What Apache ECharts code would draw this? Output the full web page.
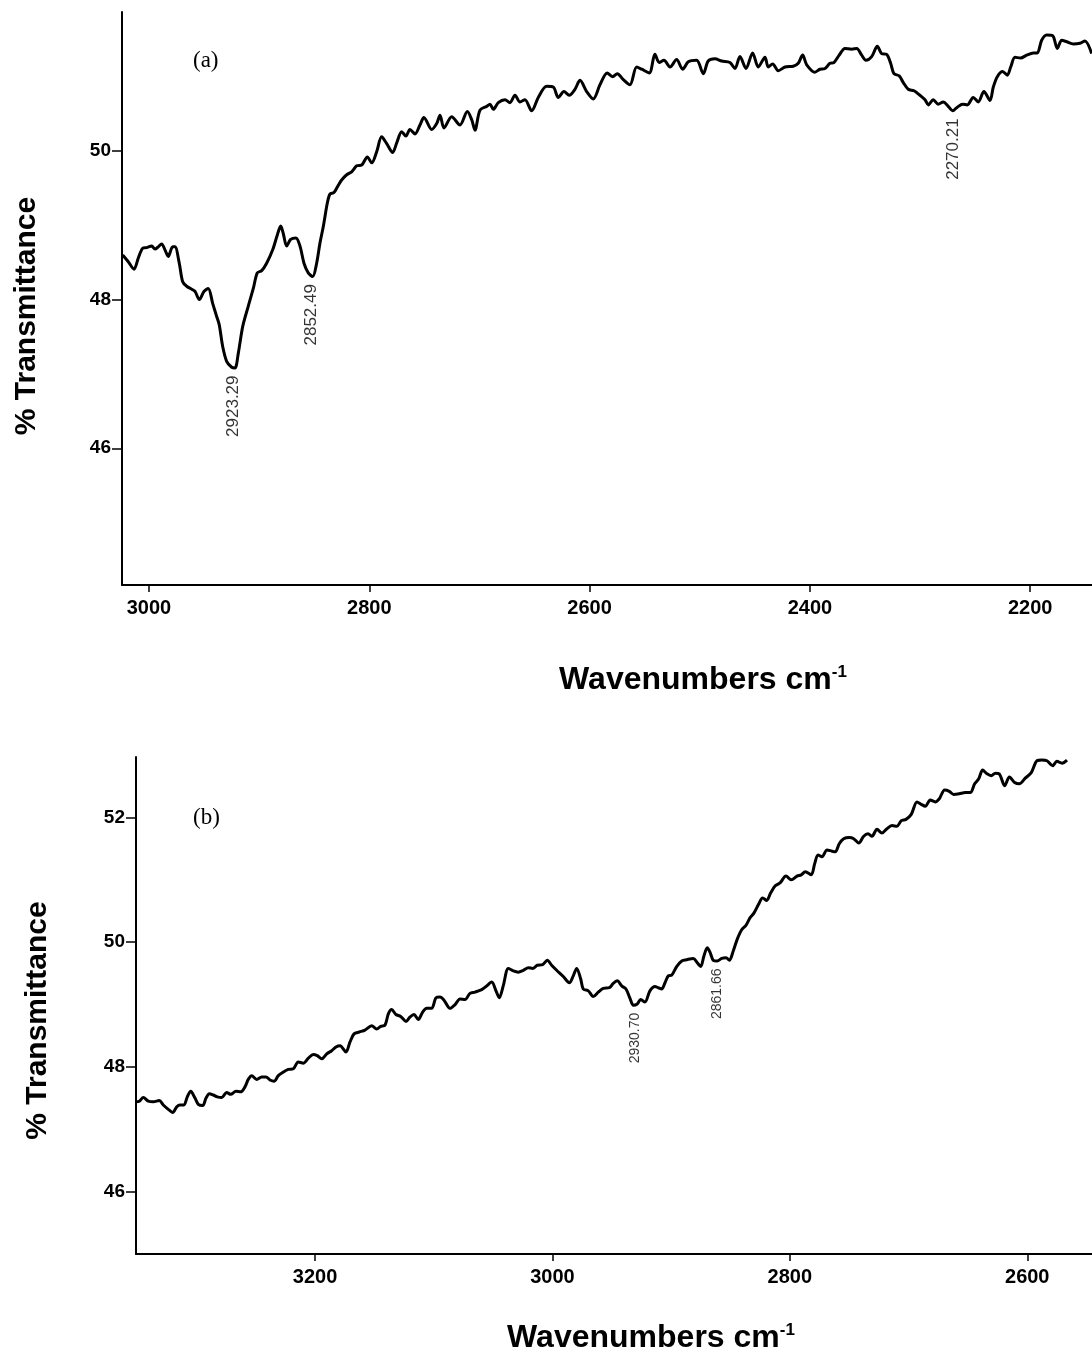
<!DOCTYPE html>
<html>
<head>
<meta charset="utf-8">
<title>IR spectra (a) and (b)</title>
<script src="https://cdn.jsdelivr.net/npm/echarts@6/dist/echarts.min.js"></script>
<style>
html,body{margin:0;padding:0;background:#fff}
#chart{width:1092px;height:1354px}
</style>
</head>
<body>
<div id="chart"></div>
<script>
// spectrum (a), wavenumber (cm-1) and % transmittance
const waveA=[3023.9,3018.8,3013.6,3009.7,3005.7,3002.1,2997.5,2994.6,2991.6,2988.5,
2985.5,2982.5,2978.5,2976.4,2972.5,2969.4,2965.8,2961.2,2958.2,2954.3,
2950.1,2946.2,2942.2,2938.5,2936.2,2933.1,2929.5,2924.9,2921.9,2918.9,
2914.9,2909.9,2905.3,2901.7,2897.7,2893.2,2887.7,2883.5,2880.4,2878.1,
2875,2871.4,2866.6,2862.9,2859.3,2855.4,2851.4,2847.8,2844.8,2841.8,
2838.1,2835.7,2832.1,2828.1,2825.1,2820.5,2816,2811.4,2806.9,2801.8,
2797.8,2793.3,2788.8,2784.2,2778.8,2775.1,2770.6,2766.7,2763.1,2758.5,
2754,2750.4,2743.4,2738.8,2735.8,2732.2,
2725.2,2717.7,2711,2707,2704.1,2699.5,2693.4,2690.4,2687.4,2682.9,
2676.8,2672.3,2667.7,2663.2,2658.7,2652.6,2646.6,2639,2633,2628.4,
2623.3,2618.5,2613.3,2608.7,2602.7,2596.7,2590.6,2584,2579.1,2574.9,
2569.4,2563.4,2557.3,2552.7,2545.8,2540.7,2536.8,2532.5,2527,2521,
2515.5,2510.4,2502.8,2496.8,2492.3,2486.2,2480.1,2472.6,2468,2463.5,
2458,2452,2446.9,2440.8,
2437.8,2433.8,2428.7,2422.6,2415.1,2410.6,2406.6,2402.9,2395.4,2390.9,
2386.3,2381.8,2378.2,2373.4,2368.2,2362.1,2357.5,2353,2349.1,2343.9,
2338.8,2334.9,2330.3,2326.7,2323.7,2318.9,2315.2,2310.7,2305.5,2300.1,
2295.5,2292.5,2288,2283.5,2278.9,2274.4,2270.4,2266.2,2261.3,2257.1,
2251.7,2247.2,2242,2236.5,2233.5,2229.9,2225,2220.8,2217.7,2213.8,
2208.7,2203.2,2197.2,2193.6,2189.6,2185.1,2179.6,2175.4,2171.4,2166.9,
2160.9,2154.8,2150.3,2144.2];
const transA=[48.60,48.51,48.41,48.56,48.69,48.70,48.72,48.68,48.71,48.75,
48.67,48.58,48.71,48.71,48.49,48.24,48.18,48.14,48.11,48.00,
48.11,48.15,47.95,47.77,47.66,47.37,47.17,47.09,47.08,47.28,
47.64,47.91,48.15,48.36,48.39,48.49,48.67,48.87,48.99,48.89,
48.72,48.81,48.83,48.72,48.49,48.36,48.31,48.49,48.76,48.98,
49.30,49.42,49.44,49.54,49.61,49.68,49.72,49.80,49.81,49.92,
49.84,49.99,50.19,50.10,49.98,50.11,50.26,50.20,50.29,50.23,
50.35,50.45,50.29,50.37,50.48,50.31,
50.46,50.35,50.53,50.42,50.28,50.55,50.60,50.63,50.56,50.65,
50.69,50.65,50.75,50.66,50.69,50.54,50.72,50.87,50.86,50.72,
50.80,50.75,50.83,50.95,50.80,50.70,50.89,51.05,51.00,51.04,
50.96,50.89,51.13,51.10,51.05,51.30,51.19,51.22,51.13,51.23,
51.10,51.20,51.22,51.04,51.21,51.24,51.21,51.19,51.11,51.27,
51.11,51.32,51.13,51.26,
51.13,51.17,51.08,51.13,51.14,51.18,51.29,51.16,51.06,51.10,
51.11,51.18,51.19,51.29,51.38,51.37,51.38,51.29,51.22,51.27,
51.41,51.31,51.30,51.18,51.04,51.01,50.92,50.83,50.81,50.75,
50.69,50.62,50.69,50.63,50.66,50.60,50.54,50.59,50.63,50.62,
50.72,50.66,50.80,50.68,50.86,51.00,51.07,51.02,51.13,51.26,
51.25,51.29,51.32,51.32,51.49,51.56,51.55,51.38,51.49,51.47,
51.44,51.45,51.48,51.31];
const peaksA=[2923.29,2852.49,2270.21];
const ticksXA=[3000,2800,2600,2400,2200];
const ticksYA=[46,48,50];

// spectrum (b)
const waveB=[3350.9,3348.1,3344.7,3340.5,3336.3,3331.3,3327.9,3323.7,3320,3316.6,
3313.8,3310.5,3307.7,3304.8,3301.2,3298.4,3294.7,3291.9,3289.1,3285.8,
3282.4,3278.7,3274.5,3271.1,3266.7,3262.7,3259.1,3256.3,3253.4,3249.2,
3245,3241.4,3238,3234.6,3231,3227.3,3222.6,3218.4,3214.2,3210,
3205.7,3201.5,3198.2,3194.4,3190.2,3186,3182.4,3179,3174,3170.6,
3167.2,3162.8,3158,3152.3,3148.1,3144.7,3141.1,3138.3,3135.5,3131.9,
3127.9,3123.4,3120.1,3116.7,3113.1,3109.4,3106,3101.8,3098.1,3094.8,
3091.4,3086.4,3082.1,3077.9,3073.7,3069.5,3065.3,3059.6,3056,3051.2,
3047.6,3044.8,3041.5,3037.2,3033,3028.8,3024.6,3020.4,3016.7,3012.8,
3008.3,3004.4,3000.7,2996.5,2990.9,2985.8,2982.5,2979.6,2976.2,2974.1,
2969.8,2965.6,2961.4,2957.2,2952.1,2948.8,2945.4,2941.7,2938.1,2934.7,
2931.9,2928.6,2925.7,2922.1,2917.9,2913.6,2910.9,2908,2905.2,2902.4,
2899.6,2895.4,2891.1,2886.9,2881.4,2878,2875.1,2872.4,2869.6,2867.3,
2864.5,2861.2,2857.4,2853.8,2851,2847.7,2844.3,2840.6,2837,2833.6,
2830.2,2826.6,2822.9,2819.5,2816.2,2812.5,2808.3,
2803.3,2798.8,2794,2790.4,2787,2782,2779.1,2776.3,2772.9,2768.7,
2764.5,2761.7,2758.4,2754.7,2749.9,2746.2,2742,2737.8,2734.2,2730.8,
2726.6,2722.4,2718.2,2714,2709.8,2706.1,2702.2,2697.7,2692.9,2689.3,
2685.9,2681.7,2677.5,2674.1,2669.6,2665.7,2662,2657.3,2652.2,2648,
2644.3,2640.9,2637.6,2633.9,2630.3,2626.9,2623.6,2619,2615.1,2610.6,
2606.7,2601.7,2596.6,2591.8,2587.6,2583.4,2578.6,2575,2570.7,2566.5];
const transB=[47.44,47.45,47.51,47.45,47.44,47.46,47.39,47.32,47.27,47.36,
47.39,47.39,47.52,47.61,47.50,47.40,47.38,47.50,47.57,47.55,
47.52,47.51,47.59,47.56,47.61,47.60,47.68,47.80,47.86,47.80,
47.84,47.84,47.79,47.77,47.86,47.91,47.96,47.97,48.08,48.06,
48.14,48.20,48.18,48.13,48.21,48.26,48.32,48.34,48.24,48.40,
48.53,48.56,48.59,48.66,48.61,48.65,48.67,48.85,48.92,48.84,
48.81,48.73,48.80,48.84,48.76,48.88,48.94,48.94,49.11,49.12,
49.07,48.94,49.00,49.09,49.08,49.18,49.20,49.24,49.29,49.36,
49.22,49.11,49.30,49.58,49.54,49.52,49.55,49.59,49.58,49.63,
49.64,49.71,49.63,49.55,49.45,49.35,49.46,49.58,49.41,49.25,
49.22,49.13,49.20,49.26,49.27,49.34,49.38,49.30,49.25,49.10,
48.99,49.01,49.08,49.04,49.22,49.29,49.27,49.25,49.35,49.46,
49.47,49.61,49.70,49.72,49.74,49.67,49.61,49.78,49.91,49.84,
49.71,49.70,49.74,49.75,49.71,49.86,50.05,50.20,50.27,50.39,
50.47,50.60,50.71,50.67,50.79,50.90,50.95,
51.06,51.00,51.06,51.08,51.13,51.08,51.26,51.40,51.37,51.48,
51.46,51.45,51.58,51.66,51.68,51.66,51.59,51.70,51.74,51.70,
51.81,51.75,51.82,51.87,51.86,51.95,51.97,52.05,52.25,52.21,
52.18,52.28,52.25,52.30,52.44,52.42,52.37,52.38,52.40,52.40,
52.54,52.62,52.76,52.70,52.67,52.71,52.70,52.51,52.65,52.56,
52.54,52.63,52.72,52.91,52.92,52.91,52.83,52.90,52.87,52.92];
const peaksB=[2930.70,2861.66];
const ticksXB=[3200,3000,2800,2600];
const ticksYB=[46,48,50,52];

const FONT='"Liberation Sans",Arial,Helvetica,sans-serif';
const SERIF='"Liberation Serif","Times New Roman",serif';

function pairs(w,t){return w.map((v,i)=>[v,t[i]])}
// peak marks sit on the nearest traced point of the curve
function peakPts(w,t,peaks){
 return peaks.map(p=>{
  let k=0;
  w.forEach((v,i)=>{if(Math.abs(v-p)<Math.abs(w[k]-p))k=i});
  return [p,t[k],p.toFixed(2)];
 });
}

function xAx(idx,min,max,ticks,gap,size){
 return {gridIndex:idx,type:'value',inverse:true,min:min,max:max,
  axisLine:{show:true,onZero:false,lineStyle:{color:'#000',width:2}},
  splitLine:{show:false},
  axisTick:{show:true,length:7,customValues:ticks,lineStyle:{color:'#000',width:1.5}},
  axisLabel:{show:true,customValues:ticks,margin:13,color:'#000',fontFamily:FONT,fontWeight:'bold',fontSize:size,
   formatter:v=>String(v)},
  name:'Wavenumbers cm{sup|-1}',nameLocation:'middle',nameGap:gap,
  nameTextStyle:{color:'#000',fontFamily:FONT,fontWeight:'bold',fontSize:32,
   rich:{sup:{color:'#000',fontFamily:FONT,fontWeight:'bold',fontSize:17,verticalAlign:'top'}}}
 };
}
function yAx(idx,min,max,ticks,gap,pad){
 return {gridIndex:idx,type:'value',min:min,max:max,
  axisLine:{show:true,onZero:false,lineStyle:{color:'#000',width:2}},
  splitLine:{show:false},
  axisTick:{show:true,length:10,customValues:ticks,lineStyle:{color:'#000',width:1.5}},
  axisLabel:{show:true,customValues:ticks,margin:11,color:'#000',fontFamily:FONT,fontWeight:'bold',fontSize:19,
   formatter:v=>String(v)},
  name:'% Transmittance',nameLocation:'middle',nameRotate:90,nameGap:gap,
  nameTextStyle:{color:'#000',fontFamily:FONT,fontWeight:'bold',fontSize:30,padding:[0,pad,0,0]}
 };
}
function peakSeries(idx,data,size){
 return {type:'scatter',xAxisIndex:idx,yAxisIndex:idx,data:data,symbolSize:1,silent:true,z:5,
  itemStyle:{color:'rgba(0,0,0,0)'},
  label:{show:true,formatter:p=>p.value[2],rotate:90,position:'bottom',distance:7,
   align:'right',verticalAlign:'middle',color:'#000',fontFamily:FONT,fontSize:size}};
}

var chart=echarts.init(document.getElementById('chart'));
chart.setOption({
 animation:false,
 backgroundColor:'#fff',
 title:[
  {text:'(a)',left:193,top:49,padding:0,textStyle:{fontFamily:SERIF,fontSize:23,fontWeight:'normal',color:'#000'}},
  {text:'(b)',left:193,top:806,padding:0,textStyle:{fontFamily:SERIF,fontSize:23,fontWeight:'normal',color:'#000'}}
 ],
 grid:[
  {left:122,top:12,right:-192,bottom:769,outerBoundsMode:'none'},
  {left:136,top:757,right:-74,bottom:100,outerBoundsMode:'none'}
 ],
 xAxis:[xAx(0,1969.6,3024.5,ticksXA,79,20),xAx(1,2483.1,3350.9,ticksXB,68,20)],
 yAxis:[yAx(0,44.16,51.87,ticksYA,80,35),yAx(1,45.0,52.97,ticksYB,83,30)],
 series:[
  {type:'line',xAxisIndex:0,yAxisIndex:0,data:pairs(waveA,transA),showSymbol:false,smooth:0.3,silent:true,
   lineStyle:{color:'#000',width:3}},
  peakSeries(0,peakPts(waveA,transA,peaksA),17),
  {type:'line',xAxisIndex:1,yAxisIndex:1,data:pairs(waveB,transB),showSymbol:false,smooth:0.3,silent:true,
   lineStyle:{color:'#000',width:3}},
  peakSeries(1,peakPts(waveB,transB,peaksB),14)
 ]
});
</script>
</body>
</html>
